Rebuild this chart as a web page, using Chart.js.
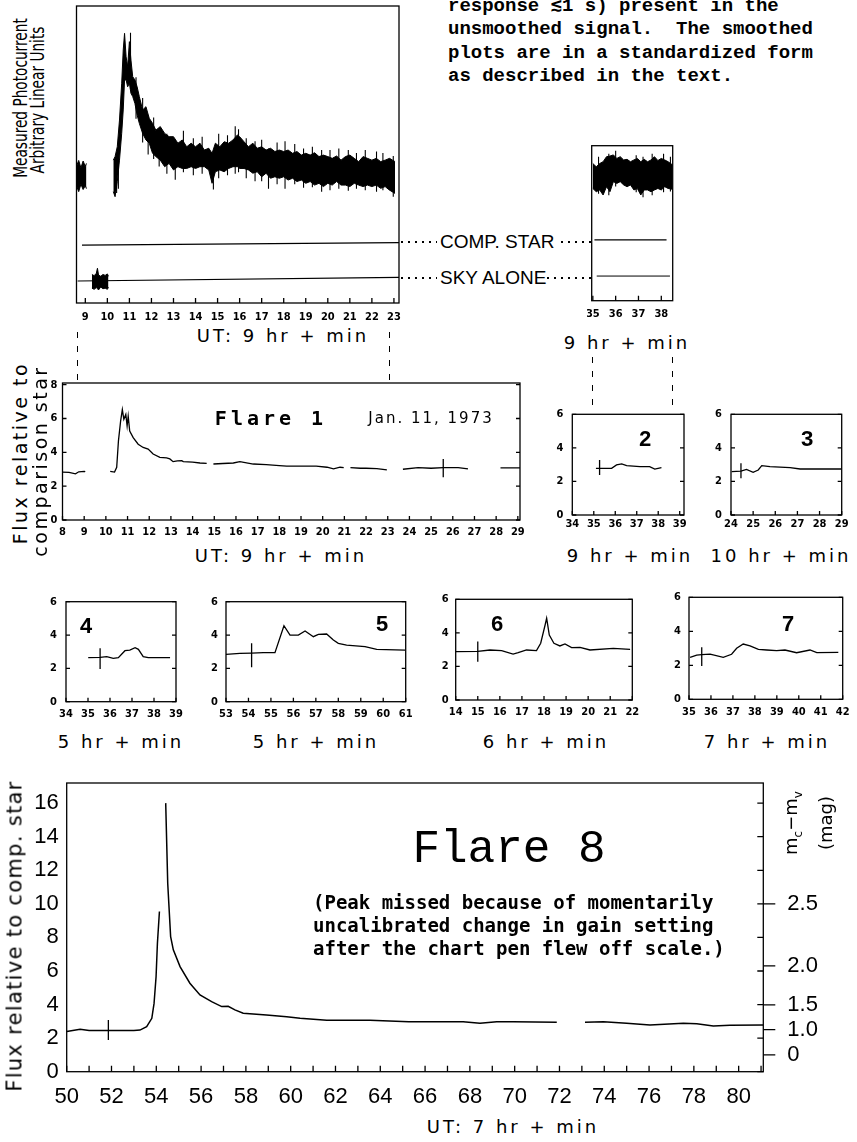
<!DOCTYPE html>
<html>
<head>
<meta charset="utf-8">
<script src="https://cdn.jsdelivr.net/npm/chart.js@4.4.1/dist/chart.umd.min.js"></script>
<style>
  body { margin: 0; width: 857px; height: 1142px; position: relative; overflow: hidden; background: #fff; color: #000; }
  canvas { position: absolute; }
  .c { position: absolute; white-space: nowrap; line-height: 1; transform: translate(-50%, -50%); font-family: 'DejaVu Sans', sans-serif; }
  .r { transform: translate(-50%, -50%) rotate(-90deg); }
  .rn { transform: translate(-50%, -50%) rotate(-90deg) scaleX(0.72); }
  .typed { position: absolute; left: 448px; top: -5px; font: bold 19px/23.3px 'Liberation Mono', 'Courier New', monospace; white-space: pre; }
  .note { position: absolute; left: 313px; top: 891px; font: 600 19px/22.8px 'DejaVu Sans Mono', monospace; white-space: pre; }
  .num { font: bold 22px 'Liberation Mono', monospace; }
  .hr { font-size: 18px; letter-spacing: 3px; }
  .dots { position: absolute; height: 2px; background: repeating-linear-gradient(90deg, #000 0 2px, transparent 2px 7px); }
  .dash { position: absolute; width: 1.4px; background: repeating-linear-gradient(180deg, #000 0 6px, transparent 6px 14px); }
</style>
</head>
<body>

<script>
// ---------------------------- Data ----------------------------

// Raw photocurrent, 9 hr UT (arbitrary units, bottom of frame = 0)
const rawMinA1 = [8.62, 8.7, 8.8, 8.9, 9.0, 9.05];
const rawHiA1 = [46.5, 48.0, 45.5, 47.8, 46.0, 47.0];
const rawLoA1 = [39.0, 37.5, 40.0, 38.2, 39.5, 38.5];

const rawMinA2 = [10.27, 10.35, 10.45, 10.55, 10.65, 10.72, 10.78, 10.85, 10.92, 11.0, 11.07, 11.15, 11.25, 11.35, 11.45, 11.6, 11.75, 11.9,
  12.05, 12.2, 12.4, 12.6, 12.8, 13.0, 13.2, 13.4, 13.6, 13.8, 14.0, 14.2, 14.4, 14.6, 14.75, 14.9, 15.1, 15.3, 15.5, 15.7, 15.9, 16.0,
  16.2, 16.4, 16.6, 16.8, 17.0, 17.2, 17.4, 17.6, 17.8, 18.0, 18.2, 18.4, 18.6, 18.8, 19.0, 19.2, 19.4, 19.6, 19.8, 20.0, 20.2, 20.4,
  20.6, 20.8, 21.0, 21.2, 21.4, 21.6, 21.8, 22.0, 22.2, 22.4, 22.6, 22.8, 23.05];
const rawHiA2 = [48.1, 49.3, 52.6, 61.6, 74.0, 85.2, 90.8, 82.9, 79.6, 88.0, 81.8, 76.2, 75.1, 72.8, 69.5, 65.0, 66.1, 62.2,
  60.5, 58.2, 59.4, 57.1, 56.0, 56.0, 53.8, 54.9, 52.6, 53.8, 52.6, 53.8, 51.5, 52.1, 50.4, 53.8, 52.6, 54.3, 53.8, 54.9, 56.6, 56.0,
  54.3, 52.6, 53.8, 52.1, 52.6, 51.5, 52.1, 51.0, 51.5, 51.0, 51.5, 50.4, 51.0, 49.8, 50.4, 49.8, 50.6, 49.3, 49.8, 49.3, 48.7, 49.5,
  48.1, 49.3, 49.8, 48.7, 47.6, 49.3, 48.7, 48.1, 48.7, 47.6, 48.1, 48.7, 47.6];
const rawLoA2 = [37.5, 35.8, 40.9, 48.1, 57.1, 65.0, 75.1, 75.1, 72.8, 74.0, 70.6, 69.5, 67.2, 63.3, 60.5, 57.1, 54.9, 53.8,
  50.4, 49.3, 48.1, 45.9, 47.0, 44.8, 45.9, 45.3, 45.3, 45.9, 45.3, 45.9, 45.9, 44.8, 40.3, 44.2, 44.8, 44.2, 45.3, 45.9, 45.9, 45.3,
  45.3, 44.8, 43.7, 44.2, 42.5, 43.7, 42.0, 42.5, 42.0, 42.5, 41.4, 42.0, 40.9, 41.4, 40.3, 40.9, 39.7, 40.3, 39.2, 40.3, 39.7, 40.9,
  39.7, 39.7, 39.2, 40.3, 39.7, 39.2, 39.7, 39.2, 39.7, 38.6, 39.2, 38.0, 36.9];

// single noise spikes sticking out of the band
const spikeMinA = [10.42, 10.5, 11.05, 11.3, 11.6, 11.85, 12.1, 12.35, 12.7, 13.08, 13.45, 13.9, 14.3, 14.81, 15.05, 15.45, 15.8,
  15.95, 16.3, 16.7, 17.0, 17.31, 17.7, 18.06, 18.5, 18.9, 19.3, 19.72, 20.1, 20.5, 20.93, 21.3, 21.7, 22.21, 22.5, 22.97];
const spikeLoA = [37.0, 38.5, 72.0, 62.0, 54.0, 50.0, 48.5, 46.0, 43.5, 41.5, 44.0, 43.0, 43.5, 38.2, 42.0, 43.0, 43.5,
  44.0, 42.0, 41.0, 41.0, 38.5, 40.0, 38.5, 40.0, 38.8, 39.0, 37.5, 38.0, 38.5, 37.8, 38.5, 38.0, 37.5, 38.0, 35.8];
const spikeHiA = [46.0, 50.0, 91.0, 76.0, 69.0, 63.0, 62.5, 58.5, 57.0, 55.0, 58.0, 55.5, 56.0, 50.0, 57.0, 56.5, 59.5,
  58.5, 55.5, 54.5, 55.0, 52.0, 54.0, 54.5, 53.5, 52.0, 52.6, 51.5, 51.5, 52.0, 51.5, 50.5, 51.5, 51.0, 50.5, 49.5];

const skyMinA = [9.3, 9.4, 9.5, 9.55, 9.6, 9.7, 9.8, 9.9, 10.0, 10.05];
const skyHiA = [9.6, 9.2, 10.0, 11.7, 9.4, 9.0, 9.6, 9.3, 9.8, 9.0];
const skyLoA = [5.0, 4.6, 5.2, 4.8, 4.4, 5.4, 4.8, 5.0, 4.6, 5.3];

const compMinA = [8.85, 23.23];
const compLevelA = [19.5, 20.3];
const skyLineMinA = [8.65, 23.23];
const skyLevelA = [7.4, 8.6];

// Raw photocurrent, 9 hr 35-38 min
const rawMinB = [35.0, 35.15, 35.3, 35.45, 35.6, 35.75, 35.9, 36.05, 36.2, 36.35, 36.5, 36.65, 36.8, 36.95, 37.1, 37.25,
  37.4, 37.55, 37.7, 37.85, 38.0, 38.15, 38.3, 38.5];
const rawHiB = [46.2, 45.1, 46.2, 46.8, 48.5, 48.7, 49.1, 47.9, 48.5, 47.4, 47.6, 46.8, 47.4, 47.9, 46.8, 47.6,
  46.8, 47.4, 48.5, 47.2, 47.9, 47.4, 46.8, 45.7];
const rawLoB = [37.8, 36.7, 37.3, 35.6, 38.4, 36.7, 40.1, 39.5, 40.1, 39.0, 38.4, 39.0, 37.3, 37.8, 35.6, 37.3,
  37.3, 36.7, 37.3, 37.8, 37.3, 38.4, 37.8, 37.5];
const spikeMinB = [35.25, 35.7, 36.0, 36.9, 37.2, 37.6, 38.1, 38.4];
const spikeLoB = [36.0, 35.5, 38.5, 36.5, 34.8, 35.5, 36.5, 36.8];
const spikeHiB = [48.5, 49.5, 50.5, 49.0, 48.5, 49.5, 49.5, 48.5];
const compMinB = [35.07, 38.23];
const compLevelB = [20.5, 20.5];
const skyLineMinB = [35.17, 38.38];
const skyLevelB = [8.3, 8.3];

// Flare 1 (UT 9 hr + min), flux relative to comparison star
const f1Min = [8.0, 8.3, 8.6, 8.75, 9.0, 9.05, 9.1, 10.2, 10.4, 10.5, 10.58, 10.68, 10.76, 10.83, 10.92, 10.98, 11.03, 11.1,
  11.26, 11.49, 11.72, 11.95, 12.18, 12.49, 12.8, 12.95, 13.1, 13.3, 13.5, 13.57, 14.0, 14.34, 14.65, 14.8, 14.96, 15.4,
  15.88, 16.18, 16.8, 17.4, 18.0, 18.34, 18.95, 19.7, 20.2, 20.5, 20.8, 20.97, 21.1, 21.28, 21.74, 22.0, 22.5, 22.96, 23.05,
  23.7, 24.4, 25.0, 25.56, 26.25, 26.7, 26.8, 28.2, 29.1];
const f1Flux = [2.83, 2.82, 2.73, 2.85, 2.88, 2.86, null, 2.88, 2.83, 3.12, 4.68, 5.85, 6.53, 5.95, 6.24, 5.56, 6.14, 5.26,
  4.87, 4.48, 4.29, 4.19, 3.9, 3.7, 3.67, 3.61, 3.45, 3.5, 3.51, 3.45, 3.42, 3.37, 3.35, null, 3.31, 3.34,
  3.37, 3.45, 3.31, 3.27, 3.22, 3.18, 3.18, 3.18, 3.12, 3.02, 3.12, 3.1, null, 3.1, 3.06, 3.06, 3.04, 2.96, null,
  3.0, 3.1, 3.06, 3.1, 3.1, 3.02, null, 3.08, 3.08];
const f1Err = [25.56, 2.53, 3.61];

// Flares 2-7
const p2Min = [35.1, 35.83, 36.06, 36.3, 36.53, 37.15, 37.6, 37.84, 38.15];
const p2Flux = [2.78, 2.78, 2.98, 3.04, 2.94, 2.88, 2.88, 2.74, 2.82];
const p2Err = [35.27, 2.39, 3.28];

const p3Min = [24.03, 24.45, 24.7, 25.0, 25.23, 25.39, 25.76, 26.67, 27.12, 28.17, 29.0];
const p3Flux = [2.58, 2.62, 2.72, 2.54, 2.68, 2.94, 2.88, 2.82, 2.74, 2.74, 2.74];
const p3Err = [24.45, 2.19, 3.08];

const p4Min = [35.01, 35.55, 35.85, 36.15, 36.38, 36.68, 36.9, 37.14, 37.29, 37.51, 37.74, 38.73];
const p4Flux = [2.64, 2.66, 2.7, 2.6, 2.64, 3.06, 3.1, 3.24, 3.14, 2.7, 2.64, 2.64];
const p4Err = [35.55, 1.96, 3.2];

const p5Min = [53.0, 53.62, 54.14, 54.66, 55.18, 55.58, 55.85, 56.22, 56.52, 56.89, 57.11, 57.48, 57.78, 58.0, 58.37, 59.19, 59.71, 60.97];
const p5Flux = [2.84, 2.9, 2.92, 2.94, 2.94, 4.56, 4.0, 4.0, 4.24, 3.9, 4.04, 4.06, 3.7, 3.5, 3.4, 3.3, 3.14, 3.1];
const p5Err = [54.14, 2.06, 3.5];

const p6Min = [14.0, 15.0, 15.55, 16.08, 16.6, 16.83, 17.21, 17.66, 17.85, 18.05, 18.12, 18.24, 18.45, 18.72, 18.95, 19.25, 19.63, 20.08, 21.14, 21.9];
const p6Flux = [2.88, 2.9, 2.98, 2.94, 2.74, 2.82, 2.98, 2.94, 3.38, 4.47, 4.87, 3.87, 3.38, 3.22, 3.34, 3.12, 3.14, 2.98, 3.08, 3.02];
const p6Err = [15.0, 2.28, 3.48];

const p7Min = [35.05, 35.35, 35.58, 35.96, 36.56, 36.94, 37.17, 37.47, 37.78, 38.16, 38.54, 38.99, 39.37, 39.9, 40.51, 40.82, 41.8];
const p7Flux = [2.47, 2.6, 2.63, 2.66, 2.47, 2.65, 3.0, 3.25, 3.14, 2.94, 2.9, 2.86, 2.9, 2.74, 2.9, 2.74, 2.76];
const p7Err = [35.58, 1.96, 3.06];

// Flare 8 (UT 7 hr + min)
const f8Min = [50.0, 50.6, 51.0, 51.5, 52.0, 52.5, 53.0, 53.27, 53.57, 53.8, 53.9, 53.99, 54.05, 54.14, 54.2, 54.42, 54.51,
  54.64, 54.76, 55.06, 55.5, 55.95, 56.47, 56.92, 57.21, 57.51, 57.88, 58.92, 59.82, 60.42, 61.61, 63.54, 65.27, 66.76,
  67.7, 68.45, 69.2, 69.94, 71.88, 72.0, 73.14, 73.96, 75.0, 76.04, 77.53, 78.13, 78.87, 79.61, 81.1];
const f8Flux = [2.39, 2.53, 2.45, 2.45, 2.45, 2.45, 2.45, 2.48, 2.68, 3.18, 4.07, 5.66, 7.65, 9.54, null, 16.0, 11.23,
  8.05, 7.26, 6.26, 5.27, 4.57, 4.17, 3.88, 3.9, 3.68, 3.48, 3.38, 3.28, 3.18, 3.06, 3.06, 2.98, 2.98,
  2.98, 2.88, 2.98, 2.98, 2.94, null, 2.95, 2.98, 2.88, 2.78, 2.88, 2.85, 2.73, 2.76, 2.78];
const f8Err = [51.86, 1.89, 3.08];
const magTicks = [0, 1.0, 1.5, 2.0, 2.5];
const magLabels = ['0', '1.0', '1.5', '2.0', '2.5'];

// ---------------------------- Helpers ----------------------------

const tickFont = { family: "'DejaVu Sans Condensed', 'Liberation Sans Narrow', 'DejaVu Sans', sans-serif", size: 11, weight: 'bold' };
const bigFont = { family: "'Liberation Sans', sans-serif", size: 22 };

function pts(xs, ys) {
  return xs.map((x, i) => ({ x: x, y: ys[i] }));
}

function trace(xs, ys, w) {
  return { data: pts(xs, ys), borderColor: '#000', borderWidth: w || 1.3, fill: false };
}

function band(xs, hi, lo) {
  return [
    { data: pts(xs, hi), borderColor: '#000', borderWidth: 1, backgroundColor: '#000', fill: '+1' },
    { data: pts(xs, lo), borderColor: '#000', borderWidth: 1, fill: false }
  ];
}

// vertical strokes, one per spike, separated by gaps
function spikes(xs, lo, hi) {
  const d = [];
  xs.forEach((x, i) => {
    d.push({ x: x, y: lo[i] }, { x: x, y: hi[i] }, { x: x, y: null });
  });
  return { data: d, borderColor: '#000', borderWidth: 1.1, fill: false };
}

function errBar(e) {
  return { data: [{ x: e[0], y: e[1] }, { x: e[0], y: e[2] }], borderColor: '#000', borderWidth: 1.3, fill: false };
}

const framePlugin = {
  id: 'frame',
  afterDatasetsDraw(chart, args, o) {
    const { ctx, chartArea: a, scales } = chart;
    ctx.save();
    ctx.strokeStyle = '#000';
    ctx.lineWidth = 1.3;
    ctx.strokeRect(a.left, a.top, a.right - a.left, a.bottom - a.top);
    ctx.beginPath();
    if (o.xTick) {
      scales.x.ticks.forEach(t => {
        const px = scales.x.getPixelForValue(t.value);
        ctx.moveTo(px, a.bottom);
        ctx.lineTo(px, a.bottom - o.xTick);
      });
    }
    if (o.yTick) {
      scales.y.ticks.forEach(t => {
        const py = scales.y.getPixelForValue(t.value);
        ctx.moveTo(a.left, py);
        ctx.lineTo(a.left + o.yTick, py);
        ctx.moveTo(a.right, py);
        ctx.lineTo(a.right - o.yTick, py);
      });
    }
    if (o.yTickR) {
      scales.y.ticks.forEach(t => {
        const py = scales.y.getPixelForValue(t.value);
        ctx.moveTo(a.right, py);
        ctx.lineTo(a.right - o.yTickR, py);
      });
    }
    if (o.y2Out && scales.y2) {
      scales.y2.ticks.forEach(t => {
        const py = scales.y2.getPixelForValue(t.value);
        ctx.moveTo(a.right, py);
        ctx.lineTo(a.right + o.y2Out, py);
      });
    }
    ctx.stroke();
    ctx.restore();
  }
};

function panel(box, xr, yr, datasets, o) {
  const cx = Math.floor(box.l - o.padL), cy = Math.floor(box.t - o.padT);
  const W = Math.ceil(box.r + o.padR) - cx, H = Math.ceil(box.b + o.padB) - cy;
  const left = box.l - cx, top = box.t - cy, right = cx + W - box.r, bottom = cy + H - box.b;

  const c = document.createElement('canvas');
  c.width = W; c.height = H;
  c.style.left = cx + 'px'; c.style.top = cy + 'px';
  c.style.width = W + 'px'; c.style.height = H + 'px';
  document.body.appendChild(c);

  const scales = {
    x: {
      type: 'linear', min: xr[0], max: xr[1],
      grid: { display: false, drawTicks: false }, border: { display: false },
      ticks: {
        stepSize: 1, includeBounds: false, autoSkip: false, maxRotation: 0, padding: o.xPad,
        color: '#000', font: o.xFont || tickFont, display: o.xLabels !== false,
        callback: o.xCb || (v => v)
      },
      afterFit: s => { s.height = bottom; s.paddingLeft = 0; s.paddingRight = 0; }
    },
    y: {
      type: 'linear', min: yr[0], max: yr[1],
      grid: { display: false, drawTicks: false }, border: { display: false },
      ticks: {
        stepSize: 2, includeBounds: false, padding: o.yPad || 6, color: '#000',
        font: o.yFont || tickFont, display: o.yLabels !== false
      },
      afterFit: s => { s.width = left; s.paddingTop = 0; s.paddingBottom = 0; }
    }
  };
  if (o.y2) {
    scales.y2 = {
      type: 'linear', position: 'right', min: yr[0], max: yr[1],
      grid: { display: false, drawTicks: false }, border: { display: false },
      afterBuildTicks: s => { s.ticks = o.y2.values.map(v => ({ value: v })); },
      ticks: { padding: o.y2.pad, color: '#000', font: bigFont, callback: (v, i) => o.y2.labels[i] },
      afterFit: s => { s.width = right; s.paddingTop = 0; s.paddingBottom = 0; }
    };
  }

  new Chart(c, {
    type: 'line',
    data: { datasets: datasets },
    options: {
      responsive: false, animation: false, devicePixelRatio: 1,
      layout: { padding: { left: 0, top: top, right: o.y2 ? 0 : right, bottom: 0 } },
      elements: { point: { radius: 0 }, line: { tension: 0 } },
      plugins: { legend: { display: false }, tooltip: { enabled: false }, frame: o.frame },
      scales: scales
    },
    plugins: [framePlugin]
  });
}

// ---------------------------- Panels ----------------------------

panel({ l: 76.5, r: 399, t: 6, b: 303 }, [8.6, 23.23], [0, 100],
  [trace(compMinA, compLevelA, 1.2), trace(skyLineMinA, skyLevelA, 1.2), spikes(spikeMinA, spikeLoA, spikeHiA)]
    .concat(band(rawMinA1, rawHiA1, rawLoA1), band(rawMinA2, rawHiA2, rawLoA2), band(skyMinA, skyHiA, skyLoA)),
  { padL: 4, padR: 4, padT: 4, padB: 22, xPad: 8, yLabels: false, frame: { xTick: 5 } });

panel({ l: 591.7, r: 672.7, t: 145.7, b: 300.7 }, [34.95, 38.5], [0, 52.2],
  [trace(compMinB, compLevelB, 1.2), trace(skyLineMinB, skyLevelB, 1), spikes(spikeMinB, spikeLoB, spikeHiB)]
    .concat(band(rawMinB, rawHiB, rawLoB)),
  { padL: 4, padR: 4, padT: 4, padB: 22, xPad: 7, yLabels: false, frame: { xTick: 5 } });

panel({ l: 62.5, r: 520, t: 383, b: 520 }, [8, 29.1], [0, 8.1],
  [trace(f1Min, f1Flux), errBar(f1Err)],
  { padL: 16, padR: 4, padT: 6, padB: 22, xPad: 6, yPad: 5, frame: { xTick: 4, yTick: 4 } });

panel({ l: 572.3, r: 684, t: 414.3, b: 515 }, [34, 39.2], [0, 6],
  [trace(p2Min, p2Flux), errBar(p2Err)],
  { padL: 20, padR: 4, padT: 6, padB: 22, xPad: 3, yPad: 9, frame: { xTick: 4, yTick: 4 } });

panel({ l: 731, r: 841.7, t: 414.3, b: 515 }, [24, 29], [0, 6],
  [trace(p3Min, p3Flux), errBar(p3Err)],
  { padL: 20, padR: 12, padT: 6, padB: 22, xPad: 3, yPad: 9, frame: { xTick: 4, yTick: 4 } });

panel({ l: 66, r: 176, t: 601.7, b: 701.7 }, [34, 39], [0, 6],
  [trace(p4Min, p4Flux), errBar(p4Err)],
  { padL: 20, padR: 8, padT: 6, padB: 22, xPad: 6, yPad: 9, frame: { xTick: 4, yTick: 4 } });

panel({ l: 226, r: 405.7, t: 601.7, b: 701.7 }, [53, 61], [0, 6],
  [trace(p5Min, p5Flux), errBar(p5Err)],
  { padL: 20, padR: 8, padT: 6, padB: 22, xPad: 6, yPad: 8, frame: { xTick: 4, yTick: 4 } });

panel({ l: 455.7, r: 632.3, t: 599.3, b: 700 }, [14, 22], [0, 6],
  [trace(p6Min, p6Flux), errBar(p6Err)],
  { padL: 20, padR: 8, padT: 6, padB: 22, xPad: 6, yPad: 7, frame: { xTick: 4, yTick: 4 } });

panel({ l: 689, r: 842.7, t: 597.3, b: 699.3 }, [35, 42], [0, 6],
  [trace(p7Min, p7Flux), errBar(p7Err)],
  { padL: 20, padR: 8, padT: 6, padB: 22, xPad: 6, yPad: 8, frame: { xTick: 4, yTick: 4 } });

panel({ l: 66.7, r: 763.3, t: 783, b: 1071.7 }, [50, 81.1], [0, 17.2],
  [trace(f8Min, f8Flux, 1.5), errBar(f8Err)],
  {
    padL: 60, padR: 70, padT: 6, padB: 40, xPad: 12, yPad: 8,
    xFont: bigFont, yFont: bigFont,
    xCb: v => (v % 2 === 0 && v <= 80 ? v : ''),
    y2: { values: magTicks.map(m => Math.pow(10, 0.4 * m)), labels: magLabels, pad: 24 },
    frame: { xTick: 6, yTickR: 6, y2Out: 12 }
  });
</script>

<!-- caption text and labels -->
<div class="typed">response ≲1 s) present in the
unsmoothed signal.  The smoothed
plots are in a standardized form
as described in the text.</div>

<div class="c rn" style="left:20px; top:98px; font-size:19px;">Measured Photocurrent</div>
<div class="c rn" style="left:37px; top:100px; font-size:19px;">Arbitrary Linear Units</div>

<div class="c" style="left:440px; top:242px; font:19px 'Liberation Sans', sans-serif; transform:translate(0,-50%);">COMP. STAR</div>
<div class="c" style="left:440px; top:278px; font:19px 'Liberation Sans', sans-serif; transform:translate(0,-50%);">SKY ALONE</div>
<div class="dots" style="left:401px; top:241px; width:36px;"></div>
<div class="dots" style="left:561px; top:241px; width:30px;"></div>
<div class="dots" style="left:401px; top:277px; width:36px;"></div>
<div class="dots" style="left:547px; top:277px; width:44px;"></div>

<div class="c hr" style="left:283px; top:336px;">UT: 9 hr + min</div>
<div class="c hr" style="left:627px; top:343px;">9 hr + min</div>

<div class="dash" style="left:77px; top:332px; height:48px;"></div>
<div class="dash" style="left:389px; top:332px; height:48px;"></div>
<div class="dash" style="left:592px; top:357px; height:55px;"></div>
<div class="dash" style="left:672px; top:357px; height:55px;"></div>

<div class="c r" style="left:20px; top:453px; font-size:19px; letter-spacing:2.5px;">Flux relative to</div>
<div class="c r" style="left:40px; top:461px; font-size:19px; letter-spacing:2.5px;">comparison star</div>
<div class="c" style="left:271px; top:418px; font:bold 20px 'DejaVu Sans Mono', monospace; letter-spacing:4px;">Flare 1</div>
<div class="c" style="left:431px; top:418px; font-size:15px; letter-spacing:2px;">Jan. 11, 1973</div>

<div class="c hr" style="left:281px; top:556px;">UT: 9 hr + min</div>
<div class="c hr" style="left:630px; top:556px;">9 hr + min</div>
<div class="c hr" style="left:781px; top:556px;">10 hr + min</div>

<div class="c num" style="left:645px; top:440px;">2</div>
<div class="c num" style="left:807px; top:440px;">3</div>
<div class="c num" style="left:86px; top:627px;">4</div>
<div class="c num" style="left:382px; top:625px;">5</div>
<div class="c num" style="left:497px; top:625px;">6</div>
<div class="c num" style="left:788px; top:625px;">7</div>

<div class="c hr" style="left:121px; top:742px;">5 hr + min</div>
<div class="c hr" style="left:316px; top:742px;">5 hr + min</div>
<div class="c hr" style="left:546px; top:742px;">6 hr + min</div>
<div class="c hr" style="left:767px; top:742px;">7 hr + min</div>

<div class="c r" style="left:15px; top:936px; font-size:21px; letter-spacing:1.3px;">Flux relative to comp. star</div>
<div class="c" style="left:509px; top:850px; font:46px 'Liberation Mono', monospace;">Flare 8</div>
<div class="note">(Peak missed because of momentarily
uncalibrated change in gain setting
after the chart pen flew off scale.)</div>
<div class="c r" style="left:793px; top:823px; font-size:18px;">m<sub style="font-size:12px;">c</sub>−m<sub style="font-size:12px;">v</sub></div>
<div class="c r" style="left:826px; top:823px; font-size:18px;">(mag)</div>
<div class="c hr" style="left:513px; top:1127px;">UT: 7 hr + min</div>

</body>
</html>
